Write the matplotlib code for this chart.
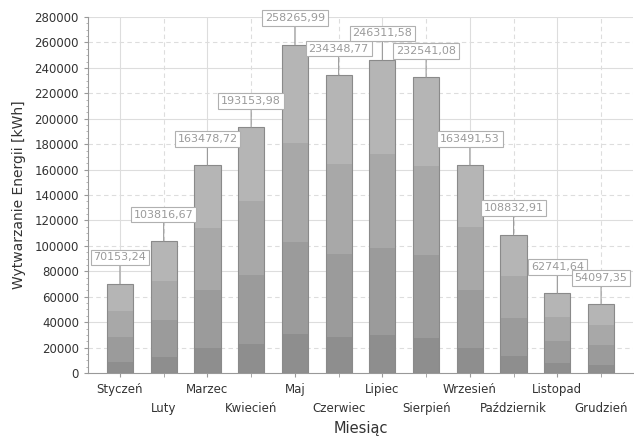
import matplotlib
matplotlib.use("Agg")
import matplotlib.pyplot as plt
import numpy as np

months = ["Styczeń", "Luty", "Marzec", "Kwiecień", "Maj", "Czerwiec",
          "Lipiec", "Sierpień", "Wrzesień", "Październik", "Listopad", "Grudzień"]
energy = [70153.24, 103816.67, 163478.72, 193153.98, 258265.99, 234348.77,
          246311.58, 232541.08, 163491.53, 108832.91, 62741.64, 54097.35]
y_ticks = list(range(0, 280001, 20000))

# shading bands inside each bar (fraction of bar height, colour)
bands = [(0.0, 0.12, "#8e8e8e"), (0.12, 0.40, "#9b9b9b"),
         (0.40, 0.70, "#a8a8a8"), (0.70, 1.0, "#b5b5b5")]

fig = plt.figure(figsize=(6.34, 4.37), dpi=100)
ax = fig.add_axes([88 / 634, 1 - 373 / 437, 545 / 634, 356 / 437])

x = np.arange(len(months))
values = np.array(energy)
width = 0.6

for lo, hi, col in bands:
    ax.bar(x, values * (hi - lo), bottom=values * lo, width=width,
           color=col, edgecolor="none", zorder=2)
ax.bar(x, values, width=width, color="none", edgecolor="#8a8a8a",
       linewidth=0.8, zorder=3)

# value labels in boxes with connector line
for xi, v in zip(x, energy):
    txt = f"{v:.2f}".replace(".", ",")
    ax.annotate(txt, xy=(xi, v), xytext=(0, 19), textcoords="offset points",
                ha="center", va="center", fontsize=8, color="#9a9a9a",
                bbox=dict(boxstyle="square,pad=0.25", fc="white", ec="#b0b0b0", lw=0.8),
                arrowprops=dict(arrowstyle="-", color="#999999", lw=0.8,
                                shrinkA=0, shrinkB=0),
                zorder=5)

ax.set_xlim(-0.73, len(months) - 0.27)
ax.set_ylim(0, 280000)
ax.set_yticks(y_ticks)
ax.set_yticklabels([str(t) for t in y_ticks], fontsize=8.5, color="#333333")
ax.set_yticks(range(0, 280001, 5000), minor=True)

# month labels in two staggered rows: even months as major ticks, odd as minor
ax.set_xticks(x[::2])
ax.set_xticklabels(months[::2], fontsize=8.5, color="#333333")
ax.set_xticks(x[1::2], minor=True)
ax.set_xticklabels(months[1::2], minor=True, fontsize=8.5, color="#333333")

ax.tick_params(axis="both", which="major", length=3, color="#999999")
ax.tick_params(axis="x", which="major", pad=4)
ax.tick_params(axis="x", which="minor", length=3, color="#999999", pad=18)
ax.tick_params(axis="y", which="minor", length=1.5, color="#aaaaaa")

# grid
for t in y_ticks[1:]:
    ls = "-" if (t // 20000) % 2 == 0 else (0, (4, 3))
    ax.axhline(t, color="#dddddd", lw=0.8, ls=ls, zorder=0)
for xi in x:
    ax.axvline(xi, color="#dddddd", lw=0.8, ls="-" if xi % 2 == 0 else (0, (4, 3)), zorder=0)

for s in ["top", "right"]:
    ax.spines[s].set_visible(False)
for s in ["left", "bottom"]:
    ax.spines[s].set_color("#999999")
    ax.spines[s].set_linewidth(0.8)

ax.set_ylabel("Wytwarzanie Energii [kWh]", fontsize=10, color="#333333", labelpad=6)
fig.text(0.5 * (88 + 633) / 634, 1 - 428 / 437, "Miesiąc", fontsize=10.5,
         color="#333333", ha="center", va="center")

fig.savefig("out.png", dpi=100)
